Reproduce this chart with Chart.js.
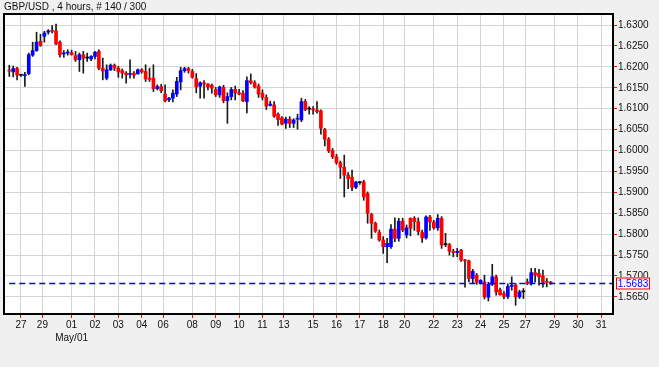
<!DOCTYPE html>
<html>
<head>
<meta charset="utf-8">
<title>GBP/USD 4 hours</title>
<script src="https://cdn.jsdelivr.net/npm/chart.js@4.4.0/dist/chart.umd.min.js"></script>
<style>
    html, body { margin: 0; padding: 0; background: #f0f0f0; }
    canvas { display: block; }
</style>
</head>
<body>
<canvas id="chart" width="659" height="367"></canvas>
<script>
var titleText = 'GBP/USD , 4 hours, # 140 / 300';

// 4 hour candles, oldest first
var opens = [
    1.6192, 1.6188, 1.6196, 1.6180, 1.6179, 1.6184, 1.6228, 1.6239, 1.6261, 1.6273,
    1.6283, 1.6286, 1.6286, 1.6259, 1.6231, 1.6233, 1.6234, 1.6227, 1.6217, 1.6229,
    1.6221, 1.6219, 1.6225, 1.6237, 1.6197, 1.6173, 1.6193, 1.6204, 1.6197, 1.6191,
    1.6185, 1.6182, 1.6185, 1.6183, 1.6193, 1.6189, 1.6173, 1.6173, 1.6148, 1.6153,
    1.6135, 1.6121, 1.6125, 1.6135, 1.6164, 1.6191, 1.6196, 1.6189, 1.6172, 1.6154,
    1.6162, 1.6159, 1.6156, 1.6146, 1.6133, 1.6151, 1.6119, 1.6129, 1.6146, 1.6138,
    1.6137, 1.6117, 1.6167, 1.6162, 1.6154, 1.6137, 1.6127, 1.6108, 1.6109, 1.6087,
    1.6078, 1.6065, 1.6075, 1.6065, 1.6075, 1.6073, 1.6117, 1.6099, 1.6099, 1.6097,
    1.6095, 1.6050, 1.6027, 1.6000, 1.5985, 1.5971, 1.5960, 1.5941, 1.5936, 1.5912,
    1.5923, 1.5925, 1.5897, 1.5847, 1.5826, 1.5804, 1.5786, 1.5770, 1.5770, 1.5812,
    1.5790, 1.5831, 1.5798, 1.5838, 1.5838, 1.5830, 1.5804, 1.5791, 1.5841, 1.5829,
    1.5815, 1.5838, 1.5775, 1.5775, 1.5759, 1.5756, 1.5762, 1.5738, 1.5736, 1.5694,
    1.5702, 1.5682, 1.5686, 1.5649, 1.5680, 1.5698, 1.5667, 1.5658, 1.5651, 1.5675,
    1.5678, 1.5650, 1.5662, 1.5686, 1.5684, 1.5708, 1.5706, 1.5700, 1.5686, 1.5685
];
var highs = [
    1.6204, 1.6202, 1.6199, 1.6182, 1.6187, 1.6233, 1.6259, 1.6283, 1.6278, 1.6285,
    1.6289, 1.6299, 1.6302, 1.6262, 1.6239, 1.6241, 1.6240, 1.6237, 1.6233, 1.6237,
    1.6233, 1.6227, 1.6237, 1.6241, 1.6221, 1.6205, 1.6207, 1.6207, 1.6201, 1.6195,
    1.6189, 1.6217, 1.6189, 1.6195, 1.6196, 1.6205, 1.6197, 1.6205, 1.6157, 1.6158,
    1.6157, 1.6127, 1.6145, 1.6175, 1.6199, 1.6199, 1.6199, 1.6194, 1.6184, 1.6164,
    1.6167, 1.6160, 1.6159, 1.6151, 1.6154, 1.6156, 1.6138, 1.6151, 1.6154, 1.6146,
    1.6143, 1.6176, 1.6183, 1.6167, 1.6159, 1.6145, 1.6133, 1.6118, 1.6117, 1.6090,
    1.6081, 1.6080, 1.6081, 1.6076, 1.6087, 1.6125, 1.6122, 1.6105, 1.6105, 1.6117,
    1.6097, 1.6053, 1.6031, 1.6005, 1.5991, 1.5975, 1.5989, 1.5947, 1.5953, 1.5926,
    1.5926, 1.5929, 1.5901, 1.5850, 1.5829, 1.5810, 1.5794, 1.5790, 1.5823, 1.5839,
    1.5838, 1.5838, 1.5822, 1.5839, 1.5842, 1.5839, 1.5810, 1.5844, 1.5845, 1.5833,
    1.5847, 1.5842, 1.5802, 1.5778, 1.5764, 1.5766, 1.5764, 1.5740, 1.5738, 1.5716,
    1.5706, 1.5691, 1.5702, 1.5685, 1.5728, 1.5702, 1.5671, 1.5663, 1.5681, 1.5698,
    1.5682, 1.5666, 1.5670, 1.5693, 1.5718, 1.5718, 1.5716, 1.5714, 1.5694, 1.5687
];
var lows = [
    1.6177, 1.6176, 1.6169, 1.6177, 1.6153, 1.6181, 1.6225, 1.6237, 1.6249, 1.6259,
    1.6278, 1.6281, 1.6253, 1.6223, 1.6223, 1.6228, 1.6228, 1.6213, 1.6189, 1.6185,
    1.6213, 1.6215, 1.6219, 1.6193, 1.6169, 1.6169, 1.6191, 1.6191, 1.6175, 1.6173,
    1.6161, 1.6173, 1.6173, 1.6183, 1.6185, 1.6165, 1.6165, 1.6141, 1.6145, 1.6138,
    1.6116, 1.6117, 1.6116, 1.6129, 1.6145, 1.6187, 1.6185, 1.6173, 1.6138, 1.6125,
    1.6125, 1.6145, 1.6137, 1.6129, 1.6127, 1.6114, 1.6065, 1.6121, 1.6121, 1.6133,
    1.6117, 1.6090, 1.6159, 1.6149, 1.6127, 1.6121, 1.6098, 1.6106, 1.6079, 1.6060,
    1.6061, 1.6053, 1.6055, 1.6055, 1.6051, 1.6069, 1.6095, 1.6087, 1.6087, 1.6089,
    1.6039, 1.6011, 1.5995, 1.5981, 1.5967, 1.5933, 1.5889, 1.5909, 1.5904, 1.5909,
    1.5919, 1.5881, 1.5826, 1.5790, 1.5804, 1.5783, 1.5754, 1.5732, 1.5766, 1.5782,
    1.5783, 1.5806, 1.5791, 1.5796, 1.5809, 1.5798, 1.5780, 1.5788, 1.5809, 1.5812,
    1.5809, 1.5766, 1.5770, 1.5750, 1.5746, 1.5746, 1.5735, 1.5673, 1.5686, 1.5682,
    1.5680, 1.5681, 1.5645, 1.5640, 1.5677, 1.5654, 1.5654, 1.5646, 1.5646, 1.5666,
    1.5630, 1.5646, 1.5646, 1.5679, 1.5678, 1.5685, 1.5678, 1.5673, 1.5674, 1.5680
];
var closes = [
    1.6190, 1.6196, 1.6180, 1.6180, 1.6181, 1.6229, 1.6239, 1.6259, 1.6251, 1.6281,
    1.6286, 1.6285, 1.6255, 1.6229, 1.6233, 1.6234, 1.6229, 1.6217, 1.6229, 1.6221,
    1.6221, 1.6225, 1.6235, 1.6197, 1.6190, 1.6193, 1.6204, 1.6197, 1.6188, 1.6185,
    1.6181, 1.6183, 1.6180, 1.6193, 1.6188, 1.6171, 1.6170, 1.6148, 1.6153, 1.6143,
    1.6119, 1.6125, 1.6137, 1.6165, 1.6191, 1.6196, 1.6191, 1.6175, 1.6152, 1.6162,
    1.6159, 1.6152, 1.6149, 1.6133, 1.6152, 1.6119, 1.6129, 1.6146, 1.6138, 1.6135,
    1.6119, 1.6167, 1.6162, 1.6152, 1.6135, 1.6127, 1.6106, 1.6111, 1.6082, 1.6074,
    1.6063, 1.6075, 1.6065, 1.6073, 1.6077, 1.6117, 1.6098, 1.6099, 1.6097, 1.6093,
    1.6053, 1.6027, 1.5999, 1.5985, 1.5971, 1.5960, 1.5941, 1.5933, 1.5912, 1.5925,
    1.5923, 1.5889, 1.5850, 1.5826, 1.5807, 1.5786, 1.5770, 1.5778, 1.5812, 1.5790,
    1.5831, 1.5810, 1.5815, 1.5814, 1.5830, 1.5806, 1.5791, 1.5841, 1.5829, 1.5815,
    1.5838, 1.5774, 1.5775, 1.5759, 1.5756, 1.5759, 1.5738, 1.5736, 1.5694, 1.5711,
    1.5685, 1.5690, 1.5650, 1.5680, 1.5698, 1.5662, 1.5655, 1.5651, 1.5675, 1.5678,
    1.5650, 1.5662, 1.5662, 1.5682, 1.5708, 1.5702, 1.5698, 1.5685, 1.5685, 1.5683
];

// day labels on the time axis and the candle where each day starts
var dayLabels = ['27', '29', '01', '02', '03', '04', '06', '08', '09', '10', '11', '13', '15',
                 '16', '17', '18', '20', '22', '23', '24', '25', '27', '29', '30', '31'];
var dayStart  = [3, 8.5, 16, 22, 28, 34, 39.5, 47, 53, 59, 65, 70.5, 78,
                 84, 90, 96, 101.5, 109, 115, 121, 127, 132.5, 140, 146, 152];
var monthLabel = 'May/01';
var monthLabelAt = 2;   // under '01'

var priceTicks = [1.5650, 1.5700, 1.5750, 1.5800, 1.5850, 1.5900, 1.5950,
                  1.6000, 1.6050, 1.6100, 1.6150, 1.6200, 1.6250, 1.6300];

var FONT = '"Liberation Sans", Arial, sans-serif';

function candleColor(i) {
    if (closes[i] > opens[i]) return '#0000ff';
    if (closes[i] < opens[i]) return '#ff0000';
    return '#000000';
}

var bodyData = opens.map(function(o, i) { return { x: i, y: [o, closes[i]] }; });
var wickData = lows.map(function(l, i) { return { x: i, y: [l, highs[i]] }; });

// background, frame, last price line and title
var framePlugin = {
    id: 'frame',
    beforeDraw: function(chart) {
        var c = chart.ctx, a = chart.chartArea;
        c.save();
        c.fillStyle = '#f0f0f0';
        c.fillRect(0, 0, chart.width, chart.height);
        c.fillStyle = '#ffffff';
        c.fillRect(a.left, a.top, a.right - a.left, a.bottom - a.top);
        c.restore();
    },
    afterDraw: function(chart) {
        var c = chart.ctx, a = chart.chartArea;
        var xs = chart.scales.x, ys = chart.scales.y;
        var last = closes[closes.length - 1];
        var py = Math.round(ys.getPixelForValue(last)) + 0.5;

        c.save();
        c.strokeStyle = '#0000ff';
        c.lineWidth = 1.6;
        c.setLineDash([6, 4]);
        c.beginPath();
        c.moveTo(xs.getPixelForValue(0), py);
        c.lineTo(a.right, py);
        c.stroke();
        c.setLineDash([]);

        c.strokeStyle = '#000000';
        c.lineWidth = 2;
        c.strokeRect(a.left, a.top, a.right - a.left, a.bottom - a.top);

        // last price box
        c.fillStyle = '#f7f7f7';
        c.fillRect(a.right + 3, py - 6, 34, 12);
        c.strokeStyle = '#ff0000';
        c.lineWidth = 1;
        c.strokeRect(a.right + 3.5, py - 5.5, 33, 11);
        c.fillStyle = '#0000ff';
        c.font = '10px ' + FONT;
        c.textAlign = 'center';
        c.textBaseline = 'middle';
        c.fillText(last.toFixed(4), a.right + 20, py + 0.5);

        c.fillStyle = '#111111';
        c.textAlign = 'left';
        c.fillText(titleText, 4, 7.5);
        c.restore();
    }
};

var ctx = document.getElementById('chart').getContext('2d');

var myChart = new Chart(ctx, {
    type: 'bar',
    data: {
        datasets: [{
            data: bodyData,
            backgroundColor: function(c) { return candleColor(c.dataIndex); },
            barThickness: 3,
            minBarLength: 1,
            grouped: false,
            order: 0
        }, {
            data: wickData,
            backgroundColor: '#1a1a1a',
            barThickness: 1,
            grouped: false,
            order: 1
        }]
    },
    options: {
        responsive: false,
        animation: false,
        events: [],
        layout: { padding: { left: 4, top: 14, right: 0, bottom: 0 } },
        plugins: {
            legend: { display: false },
            tooltip: { enabled: false }
        },
        scales: {
            x: {
                type: 'linear',
                position: 'bottom',
                min: -1.36,
                max: 155.0,
                offset: false,
                afterBuildTicks: function(s) {
                    s.ticks = dayStart.map(function(v) { return { value: v }; });
                },
                afterFit: function(s) { s.height = 53; },
                grid: { color: '#d4d4d4', lineWidth: 1, tickColor: '#ff0000', tickLength: 4, offset: false },
                border: { display: false },
                ticks: {
                    autoSkip: false,
                    maxRotation: 0,
                    padding: 0,
                    color: '#111111',
                    font: { family: FONT, size: 10, lineHeight: 1.35 },
                    callback: function(v, idx) {
                        if (idx === monthLabelAt) return [dayLabels[idx], monthLabel];
                        return dayLabels[idx];
                    }
                }
            },
            y: {
                type: 'linear',
                position: 'right',
                min: 1.56091,
                max: 1.63264,
                beginAtZero: false,
                afterBuildTicks: function(s) {
                    s.ticks = priceTicks.map(function(v) { return { value: v }; });
                },
                afterFit: function(s) { s.width = 46; },
                grid: { color: '#d4d4d4', lineWidth: 1, tickColor: '#ff0000', tickLength: 4 },
                border: { display: false },
                ticks: {
                    padding: 1,
                    color: '#111111',
                    font: { family: FONT, size: 10 },
                    callback: function(v) { return v.toFixed(4); }
                }
            }
        }
    },
    plugins: [framePlugin]
});
</script>
</body>
</html>
